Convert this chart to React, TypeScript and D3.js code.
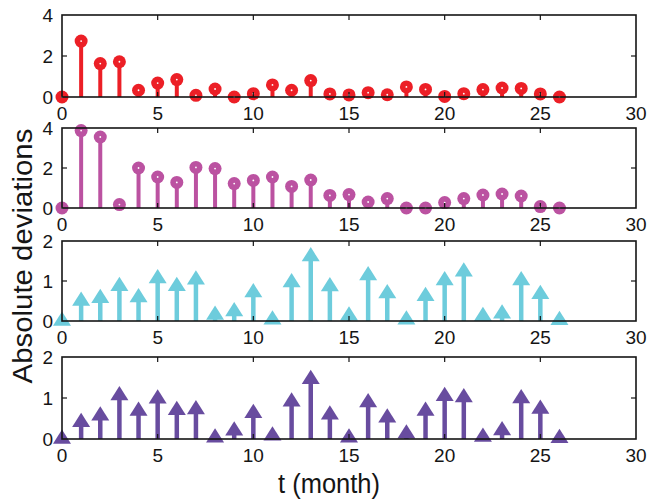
import React from 'react';
import * as d3 from 'd3';

// months 0..26
const months = d3.range(0, 27);

const redVals = [0, 2.73, 1.63, 1.72, 0.33, 0.68, 0.85, 0.08, 0.39, 0, 0.16, 0.59, 0.33, 0.8, 0.15, 0.1, 0.21, 0.11, 0.49, 0.37, 0.03, 0.16, 0.36, 0.44, 0.42, 0.15, 0];
const magentaVals = [0, 3.87, 3.55, 0.17, 2.0, 1.55, 1.28, 2.03, 1.97, 1.22, 1.38, 1.55, 1.08, 1.4, 0.63, 0.67, 0.3, 0.47, 0, 0, 0.27, 0.47, 0.65, 0.7, 0.6, 0.07, 0];
const cyanVals = [0, 0.5, 0.57, 0.87, 0.59, 1.06, 0.87, 1.03, 0.15, 0.24, 0.71, 0.03, 0.96, 1.61, 0.86, 0.13, 1.14, 0.69, 0.03, 0.62, 1.01, 1.23, 0.12, 0.18, 1.01, 0.67, 0.02];
const purpleVals = [0, 0.41, 0.57, 1.06, 0.68, 0.98, 0.7, 0.72, 0.03, 0.2, 0.63, 0.08, 0.91, 1.46, 0.59, 0.03, 0.89, 0.52, 0.13, 0.68, 1.04, 1.01, 0.05, 0.21, 0.99, 0.73, 0.02];

const xTicks = [0, 5, 10, 15, 20, 25, 30];
const yTicksBig = [0, 2, 4];
const yTicksSmall = [0, 1, 2];

const panels = [
  { vals: redVals, color: '#EC1F26', marker: 'circle', ticks: yTicksBig, top: 15, bottom: 97 },
  { vals: magentaVals, color: '#BB52A1', marker: 'circle', ticks: yTicksBig, top: 128, bottom: 208 },
  { vals: cyanVals, color: '#6DCCDC', marker: 'tri', ticks: yTicksSmall, top: 241, bottom: 321 },
  { vals: purpleVals, color: '#684C9F', marker: 'tri', ticks: yTicksSmall, top: 357, bottom: 439 },
];

const W = 648;
const H = 499;
const FONT = '"Liberation Sans", Arial, Helvetica, sans-serif';

const x = d3.scaleLinear().domain([0, 30]).range([62, 636]);

const Panel = ({ p }) => {
  const y = d3.scaleLinear().domain([p.ticks[0], p.ticks[2]]).range([p.bottom, p.top]);
  return (
    <g>
      {/* stems */}
      {p.vals.map((v, i) => (
        <line key={'s' + i} x1={x(months[i])} x2={x(months[i])} y1={y(0)} y2={y(v)}
          stroke={p.color} strokeWidth={p.marker === 'tri' ? 4.5 : 4} />
      ))}
      {/* markers */}
      {p.vals.map((v, i) => p.marker === 'circle' ? (
        <g key={'m' + i}>
          <circle cx={x(months[i])} cy={y(v)} r={6.5} fill={p.color} />
          <circle cx={x(months[i])} cy={y(v)} r={0.9} fill="#fff" />
        </g>
      ) : (
        <path key={'m' + i}
          d="M0,-9.5L9,4.75L-9,4.75Z"
          transform={`translate(${x(months[i])},${y(v)})`} fill={p.color} />
      ))}
      {/* box */}
      <rect x={x(0)} y={p.top} width={x(30) - x(0)} height={p.bottom - p.top}
        fill="none" stroke="#151515" strokeWidth={1.6} />
      {/* x ticks, in on top and bottom */}
      {xTicks.slice(1, -1).map(t => (
        <g key={'xt' + t} stroke="#151515" strokeWidth={1.2}>
          <line x1={x(t)} x2={x(t)} y1={p.bottom} y2={p.bottom - 5} />
          <line x1={x(t)} x2={x(t)} y1={p.top} y2={p.top + 5} />
        </g>
      ))}
      {/* middle y tick both sides */}
      <g stroke="#151515" strokeWidth={1.2}>
        <line x1={x(0)} x2={x(0) + 5} y1={y(p.ticks[1])} y2={y(p.ticks[1])} />
        <line x1={x(30)} x2={x(30) - 5} y1={y(p.ticks[1])} y2={y(p.ticks[1])} />
      </g>
      {/* labels */}
      {xTicks.map(t => (
        <text key={'xl' + t} x={x(t)} y={p.bottom + 23} textAnchor="middle"
          fontSize={19} fontFamily={FONT} fill="#151515">{t}</text>
      ))}
      {p.ticks.map(t => (
        <text key={'yl' + t} x={53} y={y(t)} dy="0.36em" textAnchor="end"
          fontSize={19} fontFamily={FONT} fill="#151515">{t}</text>
      ))}
    </g>
  );
};

export default function App() {
  return (
    <svg width={W} height={H} style={{ position: 'absolute', left: 0, top: 0, background: '#fff' }}>
      {panels.map((p, i) => <Panel key={i} p={p} />)}
      <text transform="translate(32,256) rotate(-90) scale(1.05,1)" textAnchor="middle"
        fontSize={28} fontFamily={FONT} fill="#151515">Absolute deviations</text>
      <text transform="translate(329,493) scale(1,1.09)" textAnchor="middle"
        fontSize={25.5} fontFamily={FONT} fill="#151515">t (month)</text>
    </svg>
  );
}
